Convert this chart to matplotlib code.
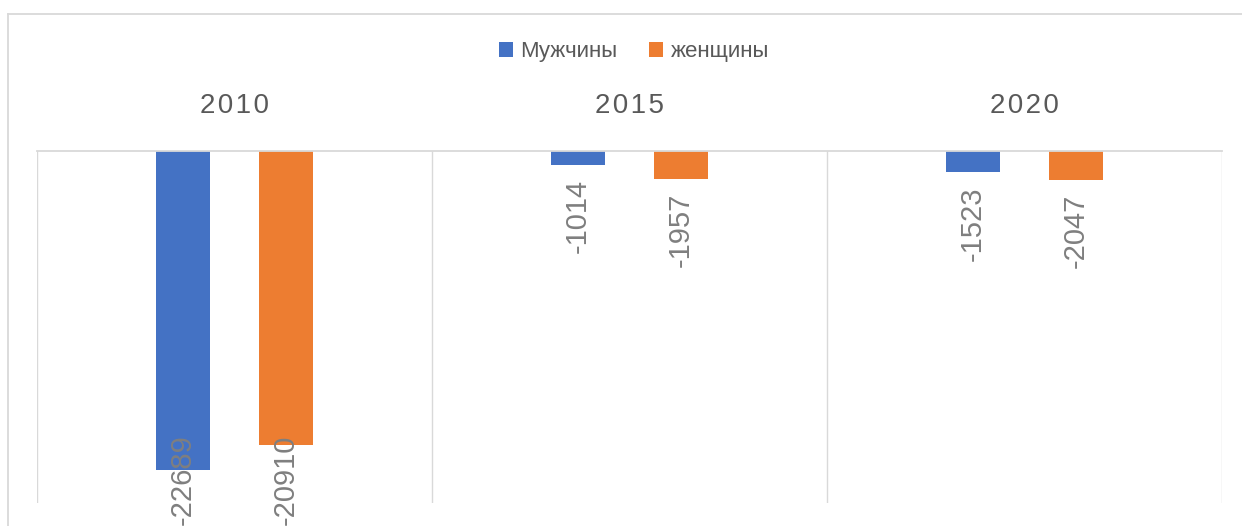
import matplotlib
matplotlib.use('Agg')
import matplotlib.pyplot as plt
import numpy as np
from matplotlib.lines import Line2D

# data
years = ['2010', '2015', '2020']
men = [-22689, -1014, -1523]
women = [-20910, -1957, -2047]
series_names = ['Мужчины', 'женщины']

W, H = 1242, 526
fig = plt.figure(figsize=(W / 100, H / 100), dpi=100)
plt.rcParams['font.family'] = ['Liberation Sans', 'DejaVu Sans']

# plot area in pixels: left 37, right 1222, top 151, bottom ~502
ax = fig.add_axes([37 / W, 1 - 502.5 / H, (1222 - 37) / W, (502.5 - 151) / H])

x = np.arange(len(years))
bw = 0.137
off = 0.13
b1 = ax.bar(x - off, men, bw, color='#4472C4', label=series_names[0])
b2 = ax.bar(x + off, women, bw, color='#ED7D31', label=series_names[1])

ax.set_xlim(-0.5, len(years) - 0.5)
ax.set_ylim(-25000, 0)
ax.set_yticks([])
for s in ['left', 'right', 'bottom']:
    ax.spines[s].set_visible(False)
ax.spines['top'].set_color('#d9d9d9')
ax.spines['top'].set_linewidth(1.3)
for xv in np.arange(-0.5, len(years), 1.0):
    ax.axvline(xv, color='#d9d9d9', lw=1.0, zorder=0)

# category labels on top, spaced like Excel
ax.xaxis.tick_top()
ax.set_xticks(x)
ax.set_xticklabels(['\u200a'.join(y) for y in years], fontsize=20, color='#595959')
ax.tick_params(axis='x', length=0, pad=23)

# data labels, rotated, below bar end; shifted up if they run off the chart
labels = []
for bars in (b1, b2):
    for rect in bars:
        v = rect.get_height()
        t = ax.annotate(f'{v:.0f}', (rect.get_x() + rect.get_width() / 2, v),
                        xytext=(0, -10), textcoords='offset points',
                        rotation=90, ha='center', va='top',
                        fontsize=21, color='#7f7f7f', annotation_clip=False)
        labels.append(t)
fig.canvas.draw()
r = fig.canvas.get_renderer()
for t in labels:
    bb = t.get_window_extent(r)
    if bb.y0 < 1:
        dy = (1 - bb.y0) * 72 / fig.dpi
        ox, oy = t.xyann
        t.xyann = (ox, oy + dy)

fig.legend(handles=[b1, b2], loc='center', bbox_to_anchor=(634 / W, 1 - 52 / H),
           ncol=2, frameon=False, fontsize=16, labelcolor='#595959',
           handlelength=0.63, handleheight=0.63, handletextpad=0.33,
           columnspacing=1.45)

# chart border (only top/left visible in the crop)
fig.add_artist(Line2D([8 / W, 8 / W], [1 - 14 / H, 0], color='#d9d9d9', lw=1.3,
                      transform=fig.transFigure))
fig.add_artist(Line2D([8 / W, 1], [1 - 14 / H, 1 - 14 / H], color='#d9d9d9', lw=1.3,
                      transform=fig.transFigure))

fig.savefig('out.png', dpi=100)
